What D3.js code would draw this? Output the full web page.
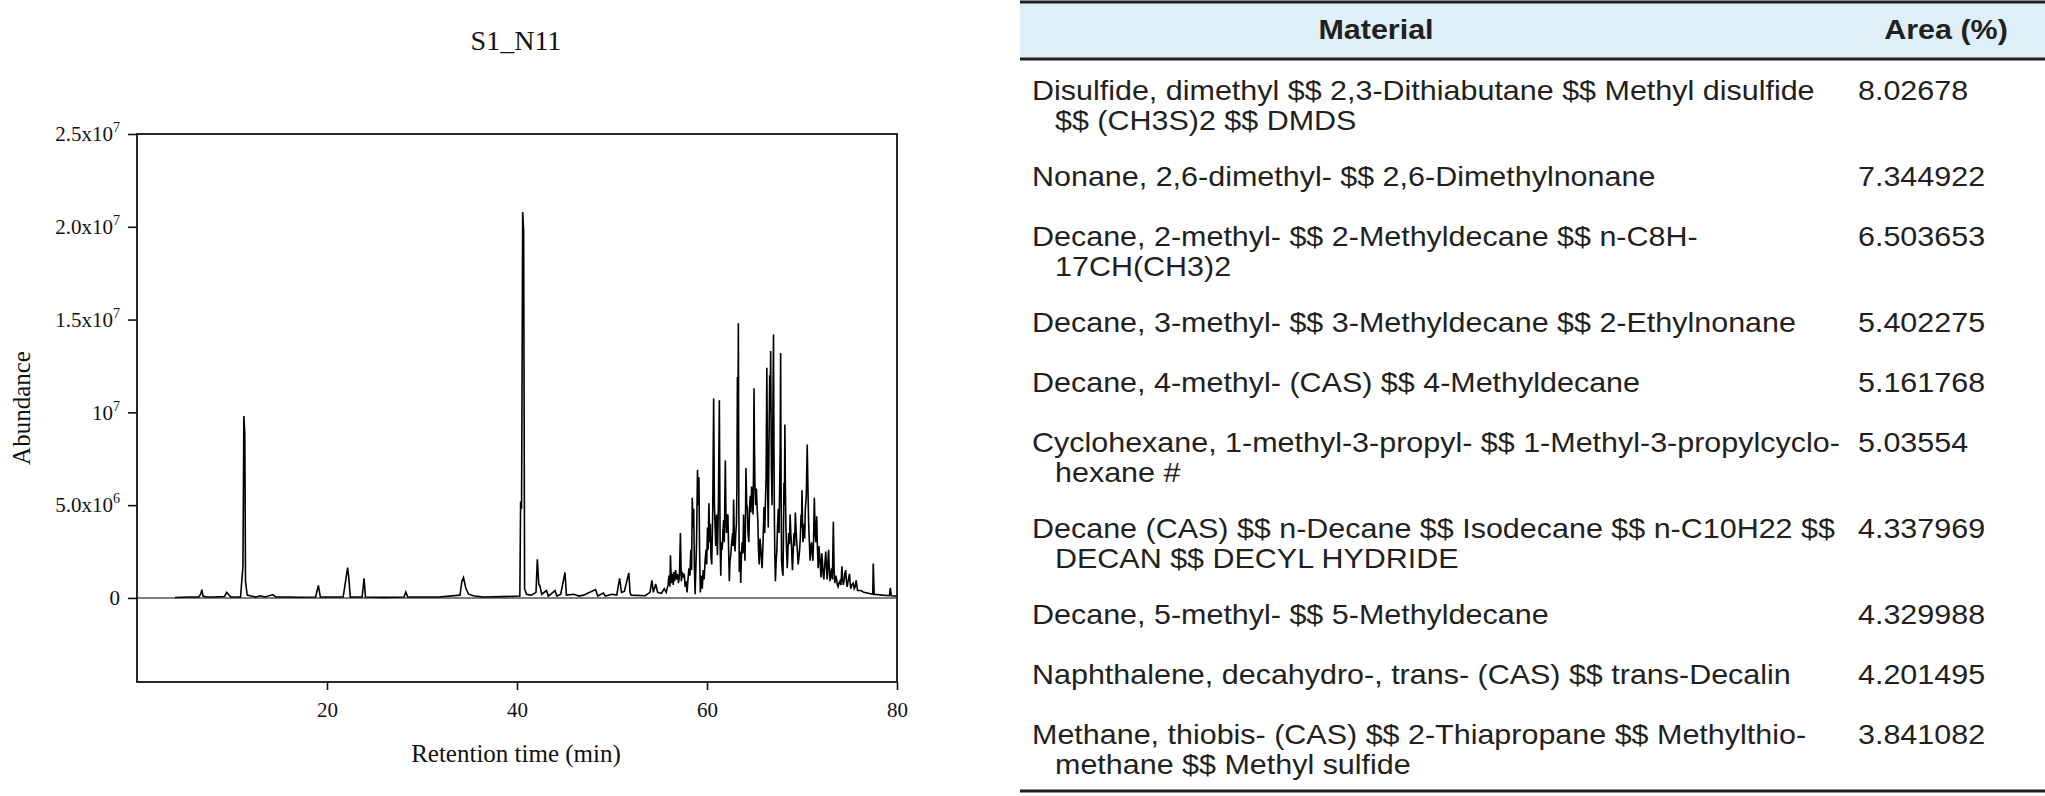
<!DOCTYPE html>
<html><head><meta charset="utf-8">
<script src="https://cdn.jsdelivr.net/npm/d3@7"></script>
<style>body{margin:0;background:#fff}svg{display:block}</style>
</head><body>
<svg id="c" width="2045" height="796"></svg>
<script>
// ---------- data ----------
const chartTitle = "S1_N11";
const xTickValues = [20, 40, 60, 80];
const yTickValues = [0, 5, 10, 15, 20, 25];           // abundance, x10^6
const yTickBase = ["0", "5.0x10", "10", "1.5x10", "2.0x10", "2.5x10"];
const yTickExp  = ["", "6", "7", "7", "7", "7"];
// chromatogram trace: [retention time (min), abundance (x10^6)]
const chromatogram = [
[4.0,0.02],[5.5,0.05],[6.5,0.05],[6.7,0.2],[6.83,0.45],[6.95,0.1],[7.3,0.05],[8.0,0.05],[9.2,0.08],[9.45,0.3],[9.7,0.15],[9.9,0.05],
[10.9,0.05],[11.15,1.7],[11.25,9.8],[11.35,8.8],[11.42,0.9],[11.6,0.15],[12.0,0.1],[12.5,0.05],[13.0,0.12],[13.5,0.05],[14.3,0.18],[14.6,0.05],
[16.0,0.05],[17.0,0.04],[18.8,0.05],[19.09,0.68],[19.3,0.05],[21.7,0.05],[22.0,1.05],[22.17,1.64],[22.3,1.05],[22.45,0.05],[23.7,0.05],[23.9,1.06],[24.05,0.05],
[26.0,0.03],[28.1,0.05],[28.3,0.32],[28.5,0.05],[31.8,0.05],[34.0,0.15],[34.2,0.9],[34.37,1.1],[34.6,0.55],[34.9,0.2],[35.5,0.1],[36.5,0.05],[38.4,0.07],
[40.3,0.1],[40.38,5.2],[40.48,4.8],[40.6,20.8],[40.7,19.8],[40.8,0.5],[41.0,0.2],[41.5,0.15],[42.0,0.3],[42.14,2.08],[42.3,0.7],[42.4,0.68],[42.6,0.2],
[43.1,0.4],[43.3,0.1],[44.0,0.4],[44.2,0.1],[44.6,0.2],[45.05,1.37],[45.2,0.15],[46.0,0.2],[46.5,0.1],[47.0,0.15],[48.27,0.45],[48.5,0.1],[49.1,0.26],[49.3,0.1],
[50.0,0.2],[50.5,0.15],[50.8,1.06],[51.0,0.3],[51.3,0.35],[51.77,1.35],[51.9,0.3],[52.0,0.15],[53.5,0.12],[54.0,0.3],[54.2,0.95],[54.35,0.3],[54.6,0.75],[54.8,0.3],
[55.2,0.25],[55.5,0.5],[55.7,0.3],[55.9,0.7],[56.0,1.2],[56.1,0.6],[56.15,2.3],[56.25,0.8],[56.35,1.3],[56.45,0.7],[56.5,1.4],[56.6,0.9],[56.7,1.5],[56.8,1.0],[56.9,1.3],
[57.0,0.8],[57.1,1.2],[57.2,3.5],[57.3,0.9],[57.4,1.4],[57.5,1.1],[57.6,1.3],[57.7,0.6],[57.8,0.9],[57.9,0.3],[58.0,1.0],[58.1,1.6],[58.2,1.2],[58.3,2.6],[58.38,1.5],
[58.45,5.4],[58.52,3.8],[58.6,4.8],[58.68,1.5],[58.75,0.2],[58.85,2.0],[58.9,3.0],[59.0,6.9],[59.08,5.0],[59.15,6.5],[59.22,2.5],[59.3,0.3],[59.4,1.2],[59.5,0.5],
[59.6,1.5],[59.7,1.0],[59.8,2.0],[59.9,2.6],[59.97,1.8],[60.05,3.8],[60.12,2.6],[60.2,5.1],[60.28,3.0],[60.35,4.0],[60.42,2.2],[60.5,1.8],[60.6,4.5],[60.7,10.75],
[60.78,5.0],[60.85,3.9],[60.92,2.8],[61.0,4.5],[61.05,3.2],[61.1,2.3],[61.2,5.0],[61.3,10.65],[61.38,3.0],[61.45,1.2],[61.52,3.0],[61.6,2.6],[61.68,3.6],[61.75,4.2],
[61.82,3.0],[61.93,7.4],[62.0,4.2],[62.05,3.5],[62.12,4.4],[62.2,4.5],[62.28,2.5],[62.35,0.9],[62.42,2.0],[62.5,2.3],[62.6,3.0],[62.7,3.5],[62.75,2.8],[62.8,5.3],
[62.88,3.2],[62.95,2.5],[63.02,3.4],[63.1,4.0],[63.15,6.0],[63.2,11.9],[63.25,8.0],[63.3,14.8],[63.35,5.0],[63.4,1.4],[63.48,2.5],[63.55,0.8],[63.62,2.2],[63.7,3.0],
[63.78,2.4],[63.85,4.5],[63.92,3.0],[64.0,2.0],[64.05,4.0],[64.1,7.0],[64.18,5.0],[64.25,4.8],[64.32,3.5],[64.4,3.0],[64.48,4.8],[64.55,5.5],[64.62,4.6],[64.7,6.0],
[64.78,5.2],[64.85,4.5],[64.9,7.0],[64.95,11.3],[65.0,8.0],[65.05,6.0],[65.12,5.0],[65.2,5.9],[65.28,4.8],[65.35,4.2],[65.42,2.6],[65.5,1.8],[65.58,3.2],[65.65,2.8],
[65.72,2.2],[65.8,1.6],[65.9,3.0],[66.0,4.9],[66.08,3.5],[66.15,5.2],[66.22,6.5],[66.3,12.4],[66.38,6.0],[66.45,3.8],[66.52,8.0],[66.6,12.0],[66.65,10.0],[66.7,13.3],
[66.78,7.0],[66.85,5.0],[66.92,9.0],[67.0,14.2],[67.05,8.0],[67.1,4.0],[67.15,2.0],[67.2,0.9],[67.28,2.0],[67.35,2.5],[67.42,3.8],[67.5,4.8],[67.58,3.5],[67.65,6.0],
[67.7,8.0],[67.75,13.2],[67.8,6.0],[67.85,2.0],[67.92,1.5],[68.0,1.2],[68.05,3.5],[68.1,6.2],[68.15,5.0],[68.2,9.35],[68.25,6.0],[68.3,4.0],[68.38,2.5],[68.45,1.6],
[68.52,2.6],[68.6,3.5],[68.68,2.9],[68.75,4.5],[68.82,3.5],[68.9,2.8],[68.95,2.0],[69.0,1.5],[69.08,2.6],[69.15,3.5],[69.22,2.8],[69.3,4.6],[69.38,3.6],[69.45,3.0],
[69.52,2.5],[69.6,1.8],[69.68,2.2],[69.75,2.6],[69.82,3.2],[69.9,4.5],[69.95,3.8],[70.0,5.8],[70.05,4.2],[70.1,3.0],[70.15,3.6],[70.2,4.0],[70.28,3.2],[70.35,4.8],
[70.45,5.5],[70.55,8.27],[70.62,6.0],[70.7,4.0],[70.78,3.0],[70.85,2.0],[70.92,2.6],[71.0,3.0],[71.08,2.4],[71.15,2.0],[71.22,3.2],[71.3,5.4],[71.38,3.5],[71.45,3.0],
[71.5,3.6],[71.55,4.4],[71.62,2.8],[71.7,1.6],[71.78,2.8],[71.85,2.3],[71.92,1.8],[72.0,1.1],[72.08,2.4],[72.15,2.0],[72.22,1.3],[72.3,1.0],[72.4,1.8],[72.5,2.5],
[72.58,1.6],[72.65,1.0],[72.72,1.9],[72.8,2.6],[72.88,1.4],[72.95,0.9],[73.02,1.2],[73.1,1.6],[73.2,1.0],[73.3,4.1],[73.38,1.5],[73.45,0.8],[73.55,1.2],[73.65,1.0],
[73.72,0.7],[73.8,0.6],[73.9,0.8],[74.0,0.9],[74.1,0.7],[74.2,1.7],[74.28,1.0],[74.35,0.7],[74.45,1.0],[74.5,1.3],[74.6,1.5],[74.68,0.9],[74.75,0.6],[74.85,0.9],
[75.0,1.3],[75.08,0.7],[75.15,0.5],[75.25,0.7],[75.4,0.8],[75.5,0.5],[75.6,0.6],[75.7,0.95],[75.85,0.4],[76.2,0.4],[76.5,0.3],
[77.0,0.25],[77.45,0.2],[77.5,1.85],[77.6,0.2],[78.5,0.15],[79.2,0.12],[79.3,0.55],[79.4,0.12],[80.0,0.1]
];
// table
const tableHeaders = ["Material", "Area (%)"];
const materialLines = [
 ["Disulfide, dimethyl $$ 2,3-Dithiabutane $$ Methyl disulfide", "$$ (CH3S)2 $$ DMDS"],
 ["Nonane, 2,6-dimethyl- $$ 2,6-Dimethylnonane"],
 ["Decane, 2-methyl- $$ 2-Methyldecane $$ n-C8H-", "17CH(CH3)2"],
 ["Decane, 3-methyl- $$ 3-Methyldecane $$ 2-Ethylnonane"],
 ["Decane, 4-methyl- (CAS) $$ 4-Methyldecane"],
 ["Cyclohexane, 1-methyl-3-propyl- $$ 1-Methyl-3-propylcyclo-", "hexane #"],
 ["Decane (CAS) $$ n-Decane $$ Isodecane $$ n-C10H22 $$", "DECAN $$ DECYL HYDRIDE"],
 ["Decane, 5-methyl- $$ 5-Methyldecane"],
 ["Naphthalene, decahydro-, trans- (CAS) $$ trans-Decalin"],
 ["Methane, thiobis- (CAS) $$ 2-Thiapropane $$ Methylthio-", "methane $$ Methyl sulfide"]
];
const areaPercent = ["8.02678","7.344922","6.503653","5.402275","5.161768","5.03554","4.337969","4.329988","4.201495","3.841082"];

// ---------- chart ----------
const svg = d3.select("#c");
const serif = "'Liberation Serif','Times New Roman',serif";
const plot = {left: 137, right: 897, top: 134, bottom: 682};
const x = d3.scaleLinear().domain([0, 80]).range([plot.left, plot.right]);
const y = d3.scaleLinear().domain([-4.53, 25]).range([plot.bottom, plot.top]);

svg.append("text").attr("x", 516).attr("y", 50).attr("text-anchor", "middle")
  .attr("font-family", serif).attr("font-size", 28).attr("fill", "#111").text(chartTitle);

// zero reference line
svg.append("line").attr("x1", plot.left).attr("x2", plot.right)
  .attr("y1", y(0)).attr("y2", y(0)).attr("stroke", "#555").attr("stroke-width", 1.5);

// trace
svg.append("path").datum(chromatogram)
  .attr("d", d3.line().x(d => x(d[0])).y(d => y(d[1])))
  .attr("fill", "none").attr("stroke", "#000").attr("stroke-width", 1.6).attr("stroke-linejoin", "miter");

// frame
svg.append("rect").attr("x", plot.left).attr("y", plot.top)
  .attr("width", plot.right - plot.left).attr("height", plot.bottom - plot.top)
  .attr("fill", "none").attr("stroke", "#111").attr("stroke-width", 1.8);

// axes
const gx = svg.append("g").attr("transform", `translate(0,${plot.bottom})`)
  .call(d3.axisBottom(x).tickValues(xTickValues).tickSize(8).tickPadding(12).tickFormat(d3.format("d")));
const gy = svg.append("g").attr("transform", `translate(${plot.left},0)`)
  .call(d3.axisLeft(y).tickValues(yTickValues).tickSize(9).tickPadding(8));
[gx, gy].forEach(g => {
  g.select(".domain").remove();
  g.selectAll(".tick line").attr("stroke", "#111").attr("stroke-width", 1.6);
  g.selectAll("text").attr("font-family", serif).attr("font-size", 21).attr("fill", "#111");
});
gy.selectAll(".tick text").each(function(d, i) {
  const t = d3.select(this).text(null);
  t.append("tspan").text(yTickBase[i]);
  if (yTickExp[i]) t.append("tspan").attr("dy", -9).attr("font-size", 14).text(yTickExp[i]);
});

svg.append("text").attr("x", 516).attr("y", 762).attr("text-anchor", "middle")
  .attr("font-family", serif).attr("font-size", 25).attr("fill", "#111").text("Retention time (min)");
svg.append("text").attr("transform", `translate(30,${(plot.top + plot.bottom) / 2}) rotate(-90)`)
  .attr("text-anchor", "middle").attr("font-family", serif).attr("font-size", 25).attr("fill", "#111").text("Abundance");

// ---------- table ----------
const sans = "'Liberation Sans',Arial,sans-serif";
const tbl = {left: 1020, right: 2045, top: 2, headBottom: 59, bottom: 791,
             textX: 1032, indent: 23, valueX: 1858, matCenter: 1376, areaCenter: 1946};
const ink = "#231f20";
const fs = 27;
// measure a reference line to get narrow-font horizontal scale
const probe = svg.append("text").attr("font-family", sans).attr("font-size", fs).text(materialLines[0][0]);
const sx = 783 / probe.node().getComputedTextLength();
probe.remove();

const tg = svg.append("g");
tg.append("rect").attr("x", tbl.left).attr("y", tbl.top).attr("width", tbl.right - tbl.left)
  .attr("height", tbl.headBottom - tbl.top).attr("fill", "#ddeff9");
[tbl.top, tbl.headBottom, tbl.bottom].forEach(yy =>
  tg.append("line").attr("x1", tbl.left).attr("x2", tbl.right).attr("y1", yy).attr("y2", yy)
    .attr("stroke", ink).attr("stroke-width", 3));

function txt(xp, yp, s, opts = {}) {
  tg.append("text").attr("transform", `translate(${xp},${yp}) scale(${sx},1)`)
    .attr("font-family", sans).attr("font-size", fs).attr("fill", ink)
    .attr("font-weight", opts.bold ? "bold" : null)
    .attr("text-anchor", opts.anchor || "start").text(s);
}
txt(tbl.matCenter, 39, tableHeaders[0], {bold: true, anchor: "middle"});
txt(tbl.areaCenter, 39, tableHeaders[1], {bold: true, anchor: "middle"});

const lineH = 30.5;
let cy = 90;
materialLines.forEach((lines, i) => {
  lines.forEach((ln, j) => txt(tbl.textX + (j ? tbl.indent : 0), cy + j * lineH + 9.5, ln));
  txt(tbl.valueX, cy + 9.5, areaPercent[i]);
  cy += lines.length > 1 ? 86 : 60;
});
</script>
</body></html>
